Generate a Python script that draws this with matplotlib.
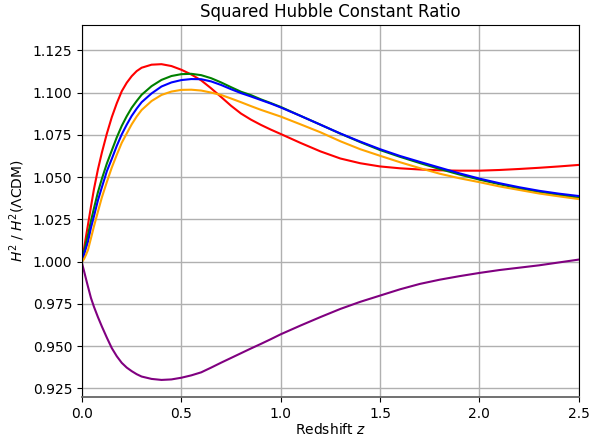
import matplotlib
matplotlib.use("Agg")
import matplotlib.pyplot as plt

# redshift grid the values were read at
z = [0.0, 0.01, 0.02, 0.03, 0.045, 0.06, 0.08, 0.1, 0.125, 0.15, 0.175, 0.2,
     0.225, 0.25, 0.275, 0.3, 0.35, 0.4, 0.45, 0.5, 0.55, 0.6, 0.65, 0.7, 0.75,
     0.8, 0.85, 0.9, 0.95, 1.0, 1.1, 1.2, 1.3, 1.4, 1.5, 1.6, 1.7, 1.8, 1.9,
     2.0, 2.1, 2.2, 2.3, 2.4, 2.5]

red = [1.000, 1.0075, 1.0148, 1.0218, 1.0325, 1.0428, 1.0545, 1.0645, 1.0757,
       1.0855, 1.0937, 1.1008, 1.1058, 1.1097, 1.1127, 1.1147, 1.1165, 1.1168,
       1.1157, 1.1135, 1.1107, 1.1072, 1.1025, 1.0974, 1.0922, 1.0876, 1.0840,
       1.0809, 1.0781, 1.0755, 1.0702, 1.0652, 1.0610, 1.0582, 1.0563, 1.0552,
       1.0545, 1.0540, 1.0538, 1.0538, 1.0542, 1.0548, 1.0555, 1.0563, 1.0572]
green = [1.000, 1.0055, 1.0108, 1.0158, 1.0240, 1.0315, 1.0410, 1.0490, 1.0580,
         1.0658, 1.0735, 1.0803, 1.0860, 1.0910, 1.0950, 1.0987, 1.1038, 1.1075,
         1.1098, 1.1109, 1.1111, 1.1103, 1.1085, 1.1060, 1.1032, 1.1005, 1.0985,
         1.0960, 1.0938, 1.0915, 1.0862, 1.0810, 1.0757, 1.0707, 1.0660, 1.0620,
         1.0583, 1.0548, 1.0515, 1.0485, 1.0458, 1.0433, 1.0413, 1.0395, 1.0378]
blue = [1.000, 1.0040, 1.0080, 1.0118, 1.0200, 1.0268, 1.0362, 1.0440, 1.0535,
        1.0608, 1.0685, 1.0753, 1.0810, 1.0862, 1.0905, 1.0943, 1.0995, 1.1036,
        1.1060, 1.1074, 1.1080, 1.1079, 1.1066, 1.1045, 1.1020, 1.0997, 1.0977,
        1.0956, 1.0935, 1.0912, 1.0862, 1.0810, 1.0758, 1.0710, 1.0665, 1.0625,
        1.0590, 1.0556, 1.0522, 1.0491, 1.0464, 1.0440, 1.0419, 1.0402, 1.0388]
orange = [1.000, 1.0015, 1.0040, 1.0069, 1.0138, 1.0208, 1.0295, 1.0380, 1.0471,
          1.0557, 1.0632, 1.0703, 1.0758, 1.0812, 1.0858, 1.0897, 1.0950, 1.0986,
          1.1006, 1.1016, 1.1017, 1.1012, 1.1000, 1.0986, 1.0965, 1.0943, 1.0920,
          1.0898, 1.0878, 1.0858, 1.0812, 1.0765, 1.0712, 1.0665, 1.0626, 1.0588,
          1.0553, 1.0520, 1.0493, 1.0470, 1.0445, 1.0424, 1.0403, 1.0386, 1.0370]
purple = [0.999, 0.9945, 0.9898, 0.9852, 0.9785, 0.9733, 0.9672, 0.9616, 0.9550,
          0.9488, 0.9440, 0.9401, 0.9373, 0.9352, 0.9334, 0.9320, 0.9306, 0.9300,
          0.9303, 0.9313, 0.9327, 0.9345, 0.9373, 0.9402, 0.9430, 0.9458, 0.9486,
          0.9513, 0.9541, 0.9570, 0.9622, 0.9672, 0.9720, 0.9762, 0.9799, 0.9836,
          0.9868, 0.9893, 0.9914, 0.9933, 0.9950, 0.9964, 0.9978, 0.9995, 1.0012]

fig, ax = plt.subplots(figsize=(5.9, 4.38), dpi=100)
fig.subplots_adjust(left=0.139, right=0.981, bottom=0.094, top=0.943)

ax.plot(z, red, color="red", lw=1.5)
ax.plot(z, green, color="green", lw=1.5)
ax.plot(z, blue, color="blue", lw=1.5)
ax.plot(z, orange, color="orange", lw=1.5)
ax.plot(z, purple, color="purple", lw=1.5)

ax.set_xlim(0, 2.5)
ax.set_ylim(0.92, 1.14)
ax.set_yticks([0.925, 0.95, 0.975, 1.0, 1.025, 1.05, 1.075, 1.1, 1.125])
ax.set_xticks([0.0, 0.5, 1.0, 1.5, 2.0, 2.5])
ax.grid(True, color="#b0b0b0", lw=1.0)
ax.spines["bottom"].set_color("0.4")
ax.spines["bottom"].set_linewidth(1.3)

ax.set_title("Squared Hubble Constant Ratio")
ax.set_xlabel("Redshift $z$", labelpad=1)
ax.set_ylabel(r"$H^2$ / $H^2$($\Lambda$CDM)")

fig.savefig("out.png", dpi=100)
